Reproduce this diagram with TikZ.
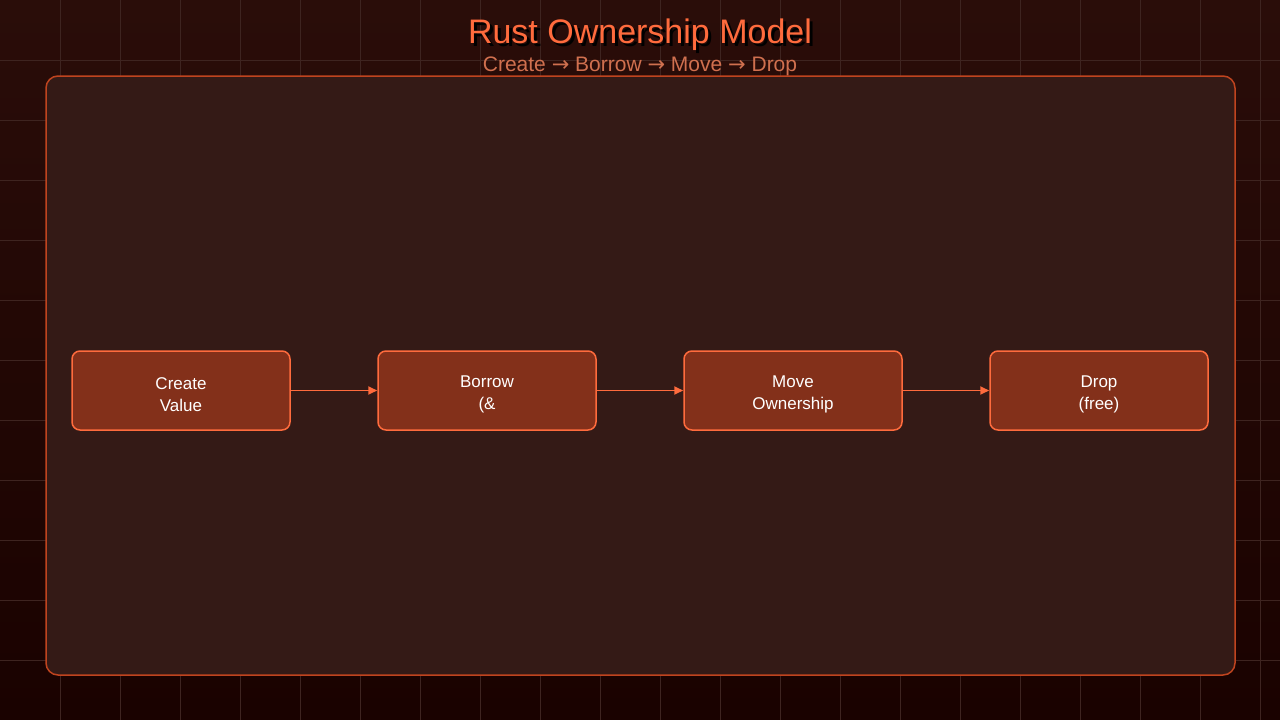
\documentclass[tikz,border=0pt]{standalone}
\usepackage{fontspec}
\setmainfont{Liberation Sans}
\newfontfamily\symf{DejaVu Sans}
\usetikzlibrary{arrows.meta,shadows}
\definecolor{bgtop}{HTML}{2A0D09}
\definecolor{bgbot}{HTML}{1A0200}
\definecolor{gridc}{HTML}{3E2420}
\definecolor{panel}{HTML}{341A16}
\definecolor{panelb}{HTML}{C0441F}
\definecolor{boxf}{HTML}{83301A}
\definecolor{boxb}{HTML}{FF6B3D}
\definecolor{subc}{HTML}{D0704F}
\begin{document}
\begin{tikzpicture}[x=1pt,y=-1pt,
  stagebox/.style={draw=boxb,line width=1.5pt,fill=boxf,rounded corners=8pt,minimum width=218pt,minimum height=79pt,text=white,align=center,font=\fontsize{17}{22}\selectfont},
  conn/.style={draw=boxb,line width=1.8pt,-{Triangle[length=9pt,width=8pt]}}]
\useasboundingbox (0,0) rectangle (1280,720);
\shade[top color=bgtop,bottom color=bgbot] (0,0) rectangle (1280,720);
\foreach \x in {60,120,...,1260} \draw[gridc,line width=0.8pt] (\x,0) -- (\x,720);
\foreach \y in {60,120,...,660} \draw[gridc,line width=0.8pt] (0,\y) -- (1280,\y);
\node[text=black,font=\fontsize{34}{40}\selectfont] at (643,38) {Rust Ownership Model};
\node (title) [text=boxb,font=\fontsize{34}{40}\selectfont] at (640,35) {Rust Ownership Model};
\draw[panelb,line width=1.5pt,fill=panel,rounded corners=12pt] (46,76) rectangle (1235,675);
\node (sub) [text=subc,font=\fontsize{21}{26}\selectfont] at (640,66) {Create {\symf →} Borrow {\symf →} Move {\symf →} Drop};
\node[stagebox] (a) at (181,390.5) {};
\node[stagebox] (b) at (487,390.5) {};
\node[stagebox] (c) at (793,390.5) {};
\node[stagebox] (d) at (1099,390.5) {};
\foreach \n/\t in {a/Create\\Value, b/Borrow\\(\& / \&mut), c/Move\\Ownership, d/Drop\\(free)}
  \node[text=white,align=center,font=\fontsize{17}{22}\selectfont] at ([yshift=-4pt]\n.center) {\t};
\draw[conn] (a) -- (b);
\draw[conn] (b) -- (c);
\draw[conn] (c) -- (d);
\end{tikzpicture}
\end{document}
